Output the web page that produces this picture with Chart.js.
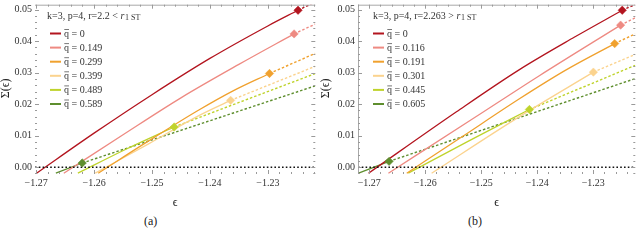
<!DOCTYPE html>
<html><head><meta charset="utf-8">
<script src="https://cdn.jsdelivr.net/npm/chart.js@4"></script>
<style>
html,body{margin:0;padding:0;background:#fff;}
body{width:640px;height:243px;position:relative;overflow:hidden;font-family:'Liberation Serif',serif;}
.panel{position:absolute;top:0;width:320px;height:212px;}
#pa{left:0;} #pb{left:320px;}
.cap{position:absolute;top:214px;font-size:12px;color:#222;line-height:14px;}
</style></head><body>
<div class="panel" id="pa"><canvas id="ca"></canvas></div>
<div class="panel" id="pb"><canvas id="cb"></canvas></div>
<div class="cap" style="left:144px">(a)</div>
<div class="cap" style="left:468px">(b)</div>
<script>
// ---------- shared ----------
const colors = ['#B3151F', '#EE8A82', '#F0A12E', '#FBD38E', '#BFD32C', '#5E8E2E'];
const yTicks = [0.00, 0.01, 0.02, 0.03, 0.04, 0.05];
const xTicks = [-1.27, -1.26, -1.25, -1.24, -1.23];
const yRange = [-0.00216, 0.05154];

// ---------- panel (a) ----------
const A_q = ['0', '0.149', '0.299', '0.399', '0.489', '0.589'];
const A_solidEps = [
  [-1.2700, -1.2600, -1.2500, -1.2400, -1.2300, -1.22478],
  [-1.26523, -1.2550, -1.2450, -1.2350, -1.22546],
  [-1.25928, -1.25043, -1.24191, -1.2360, -1.22971],
  [-1.25979, -1.25043, -1.24191, -1.23642],
  [-1.2628, -1.2545, -1.24617],
  [-1.2666, -1.26205]
];
const A_solidSig = [
  [-0.0020, 0.0108, 0.0230, 0.0345, 0.0448, 0.04978],
  [-0.0019, 0.0103, 0.0220, 0.0326, 0.04228],
  [-0.0019, 0.00849, 0.01812, 0.0242, 0.02972],
  [-0.0019, 0.00756, 0.01636, 0.0212],
  [-0.0019, 0.0057, 0.01275],
  [-0.0019, 0.00133]
];
const A_endEps = [-1.2218, -1.2218, -1.2218, -1.2218, -1.2218, -1.2218];
const A_endSig = [0.0524, 0.0454, 0.0361, 0.0320, 0.0297, 0.0258];
const A_xRange = [-1.2702, -1.2218];

// ---------- panel (b) ----------
const B_q = ['0', '0.116', '0.191', '0.301', '0.445', '0.605'];
const B_solidEps = [
  [-1.27012, -1.25442, -1.24318, -1.23341, -1.22483],
  [-1.26657, -1.25117, -1.23963, -1.22512],
  [-1.2633, -1.25384, -1.24318, -1.2350, -1.22618],
  [-1.25886, -1.24318, -1.22998],
  [-1.26302, -1.2522, -1.2414],
  [-1.2719, -1.26645]
];
const B_solidSig = [
  [-0.0019, 0.01759, 0.03096, 0.0412, 0.04978],
  [-0.0019, 0.01574, 0.02901, 0.04506],
  [-0.0019, 0.00917, 0.0217, 0.0307, 0.0392],
  [-0.0019, 0.01605, 0.03015],
  [-0.0019, 0.00833, 0.0183],
  [-0.0019, 0.00185]
];
const B_endEps = [-1.2225, -1.2225, -1.2225, -1.2225, -1.2225, -1.2225];
const B_endSig = [0.0516, 0.0474, 0.0423, 0.0358, 0.0323, 0.0281];
const B_xRange = [-1.2720, -1.2225];

const FONT = '"Liberation Serif", "Times New Roman", serif';
const fmt = v => { const s = Math.abs(v).toFixed(2); return (v < -1e-9 ? '\u2212' : '') + s; };

function buildDatasets(q, sEps, sSig, eEps, eSig, xr) {
  const ds = [];
  q.forEach((lab, i) => {
    const n = sEps[i].length;
    const mx = sEps[i][n - 1], my = sSig[i][n - 1];
    ds.push({ data: sEps[i].map((e, j) => ({ x: e, y: sSig[i][j] })), borderColor: colors[i],
      borderWidth: 1.3, pointRadius: 0, fill: false, cubicInterpolationMode: 'monotone', order: 1 });
    ds.push({ data: [{ x: mx, y: my }, { x: eEps[i], y: eSig[i] }], borderColor: colors[i],
      borderWidth: 1.4, borderDash: [2.5, 2], pointRadius: 0, fill: false, order: 1 });
    ds.push({ data: [{ x: mx, y: my }], showLine: false, pointStyle: 'rectRot', pointRadius: 4.2,
      pointBackgroundColor: colors[i], pointBorderColor: colors[i], pointBorderWidth: 0.5, order: 0 });
  });
  ds.push({ data: [{ x: xr[0], y: 0 }, { x: xr[1], y: 0 }], borderColor: '#111', borderWidth: 1.6,
    borderDash: [1.6, 2.2], pointRadius: 0, fill: false, order: 0 });
  return ds;
}

const decoPlugin = {
  id: 'deco',
  afterDatasetsDraw(chart) {
    const o = chart.options.plugins.deco;
    const ctx = chart.ctx, ca = chart.chartArea;
    const xs = chart.scales.x, ys = chart.scales.y;
    ctx.save();
    // frame
    ctx.strokeStyle = '#a8a8a8'; ctx.lineWidth = 1;
    ctx.beginPath(); ctx.moveTo(ca.left, ca.top + 0.5); ctx.lineTo(ca.right, ca.top + 0.5); ctx.stroke();
    if (o.leftLine) { ctx.beginPath(); ctx.moveTo(ca.left + 0.5, ca.top); ctx.lineTo(ca.left + 0.5, ca.bottom); ctx.stroke(); }
    // ticks
    ctx.strokeStyle = '#9a9a9a';
    for (let k = -1; k <= 26; k++) {
      const v = k * 0.002; if (v < ys.min || v > ys.max) continue;
      const p = Math.round(ys.getPixelForValue(v)) + 0.5;
      const len = (k % 5 === 0) ? 4 : 2;
      ctx.beginPath(); ctx.moveTo(ca.left, p); ctx.lineTo(ca.left + len, p);
      ctx.moveTo(ca.right, p); ctx.lineTo(ca.right - len, p); ctx.stroke();
    }
    for (let k = -2; k <= 30; k++) {
      const v = -1.27 + k * 0.002; if (v < xs.min || v > xs.max) continue;
      const p = Math.round(xs.getPixelForValue(v)) + 0.5;
      const len = (k % 5 === 0) ? 4 : 2;
      ctx.beginPath(); ctx.moveTo(p, ca.bottom); ctx.lineTo(p, ca.bottom - len);
      ctx.moveTo(p, ca.top); ctx.lineTo(p, ca.top + len); ctx.stroke();
    }
    // axis titles
    ctx.fillStyle = '#222';
    ctx.font = '12px ' + FONT;
    ctx.textAlign = 'center'; ctx.textBaseline = 'middle';
    ctx.fillText('\u03F5', (ca.left + ca.right) / 2, 203);
    ctx.save(); ctx.translate(6, (ca.top + ca.bottom) / 2 - 1); ctx.rotate(-Math.PI / 2);
    ctx.fillText('\u03A3(\u03F5)', 0, 0); ctx.restore();
    // legend title
    ctx.textAlign = 'left'; ctx.textBaseline = 'alphabetic';
    ctx.font = '10px ' + FONT; ctx.fillStyle = '#333';
    let x = ca.left + o.titleDx; const by = 18.5;
    ctx.fillText(o.title, x, by); x += ctx.measureText(o.title).width;
    ctx.font = 'italic 10px ' + FONT; ctx.fillText('r', x, by); x += ctx.measureText('r').width + 0.8;
    ctx.font = '8px ' + FONT; ctx.fillText('1 ST', x, by + 1.8);
    // legend entries
    ctx.font = '10px ' + FONT;
    o.labels.forEach((lab, i) => {
      const y = 33.5 + i * 14.1;
      ctx.strokeStyle = colors[i]; ctx.lineWidth = 2;
      ctx.beginPath(); ctx.moveTo(ca.left + 15, y); ctx.lineTo(ca.left + 26, y); ctx.stroke();
      const tx = ca.left + 29, b = y + 3.3;
      ctx.fillStyle = '#333';
      ctx.fillText('q', tx, b);
      const qw = ctx.measureText('q').width;
      ctx.strokeStyle = '#555'; ctx.lineWidth = 0.8;
      ctx.beginPath(); ctx.moveTo(tx + 0.3, b - 7.3); ctx.lineTo(tx + qw, b - 7.3); ctx.stroke();
      ctx.fillText(' = ' + lab, tx + qw, b);
    });
    ctx.restore();
  }
};

function makeChart(id, q, sEps, sSig, eEps, eSig, xr, leftW, opts) {
  return new Chart(document.getElementById(id), {
    type: 'line',
    data: { datasets: buildDatasets(q, sEps, sSig, eEps, eSig, xr) },
    plugins: [decoPlugin],
    options: {
      responsive: true, maintainAspectRatio: false, animation: false,
      layout: { padding: { left: 0, right: opts.rightPad, top: 0, bottom: 0 } },
      plugins: { legend: { display: false }, tooltip: { enabled: false },
        deco: Object.assign({ labels: q }, opts) },
      scales: {
        x: { type: 'linear', min: xr[0], max: xr[1],
          afterBuildTicks: s => { s.ticks = xTicks.map(v => ({ value: v })); },
          afterFit: s => { s.height = 38; s.paddingLeft = 0; s.paddingRight = 0; },
          ticks: { callback: v => fmt(v), color: '#333', font: { family: FONT, size: 10 }, padding: 3,
            maxRotation: 0, autoSkip: false },
          grid: { display: false, drawTicks: false }, border: { display: false } },
        y: { type: 'linear', min: yRange[0], max: yRange[1],
          afterBuildTicks: s => { s.ticks = yTicks.map(v => ({ value: v })); },
          afterFit: s => { s.width = leftW; s.paddingTop = 0; s.paddingBottom = 0; },
          ticks: { callback: v => fmt(v), color: '#333', font: { family: FONT, size: 10 }, padding: 3 },
          grid: { display: false, drawTicks: false }, border: { display: false } }
      }
    }
  });
}

makeChart('ca', A_q, A_solidEps, A_solidSig, A_endEps, A_endSig, A_xRange, 35,
  { rightPad: 3, title: 'k=3, p=4, r=2.2 < ', titleDx: 12, leftLine: false });
makeChart('cb', B_q, B_solidEps, B_solidSig, B_endEps, B_endSig, B_xRange, 38,
  { rightPad: 3, title: 'k=3, p=4, r=2.263 > ', titleDx: 15, leftLine: true });
</script>
</body></html>
